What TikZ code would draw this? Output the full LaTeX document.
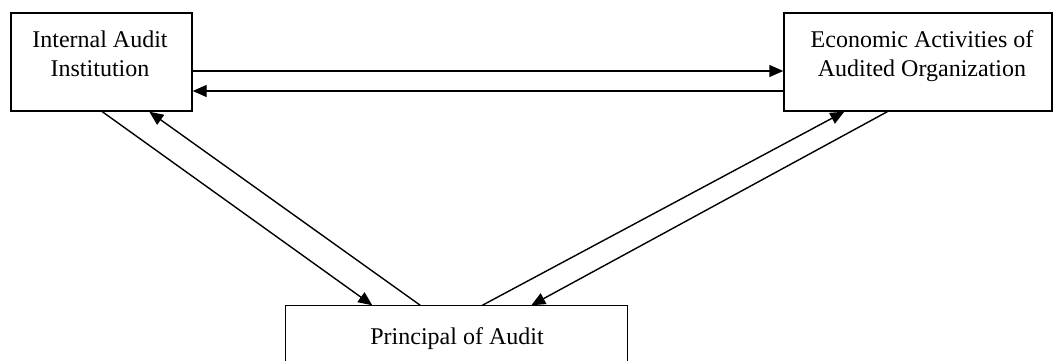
\documentclass[tikz,border=0pt]{standalone}
\usepackage{fontspec}
\setmainfont{Liberation Serif}
\usetikzlibrary{arrows.meta}
\begin{document}
\begin{tikzpicture}[x=1pt,y=-1pt,
  boxnode/.style={draw=black,line width=1.4pt,minimum width=#1,inner sep=0pt},
  txt/.style={align=center,font=\fontsize{24}{29}\selectfont,inner sep=0pt},
  conn/.style={line width=1.4pt,-{Triangle[length=14pt,width=12pt]}}]
\useasboundingbox (0,0) rectangle (1053,361);
\node[boxnode=181pt,minimum height=98pt] (iai) at (101.5,62) {};
\node[boxnode=268pt,minimum height=98pt] (eco) at (918,62) {};
\node[boxnode=341pt,draw=none,minimum height=55pt] (pa) at (456.5,333.5) {};
\draw[line width=1.4pt] (pa.south west) -- (pa.north west) -- (pa.north east) -- (pa.south east);
\node[txt] (iait) at (100,54) {Internal Audit\\Institution};
\node[txt] (ecot) at (922,56) {Economic Activities of\\Audited Organization};
\node[txt,anchor=base] (pat) at (457,344) {Principal of Audit};
\draw[conn] ([yshift=-58.7pt]iai.north east) -- ([yshift=-58.7pt]eco.north west);
\draw[conn] ([yshift=-78.7pt]eco.north west) -- ([yshift=-78.7pt]iai.north east);
\draw[conn] ([xshift=92pt]iai.south west) -- ([xshift=87pt]pa.north west);
\draw[conn] ([xshift=135pt]pa.north west) -- ([xshift=139pt]iai.south west);
\draw[conn] ([xshift=197pt]pa.north west) -- ([xshift=61pt]eco.south west);
\draw[conn] ([xshift=104pt]eco.south west) -- ([xshift=246pt]pa.north west);
\end{tikzpicture}
\end{document}
